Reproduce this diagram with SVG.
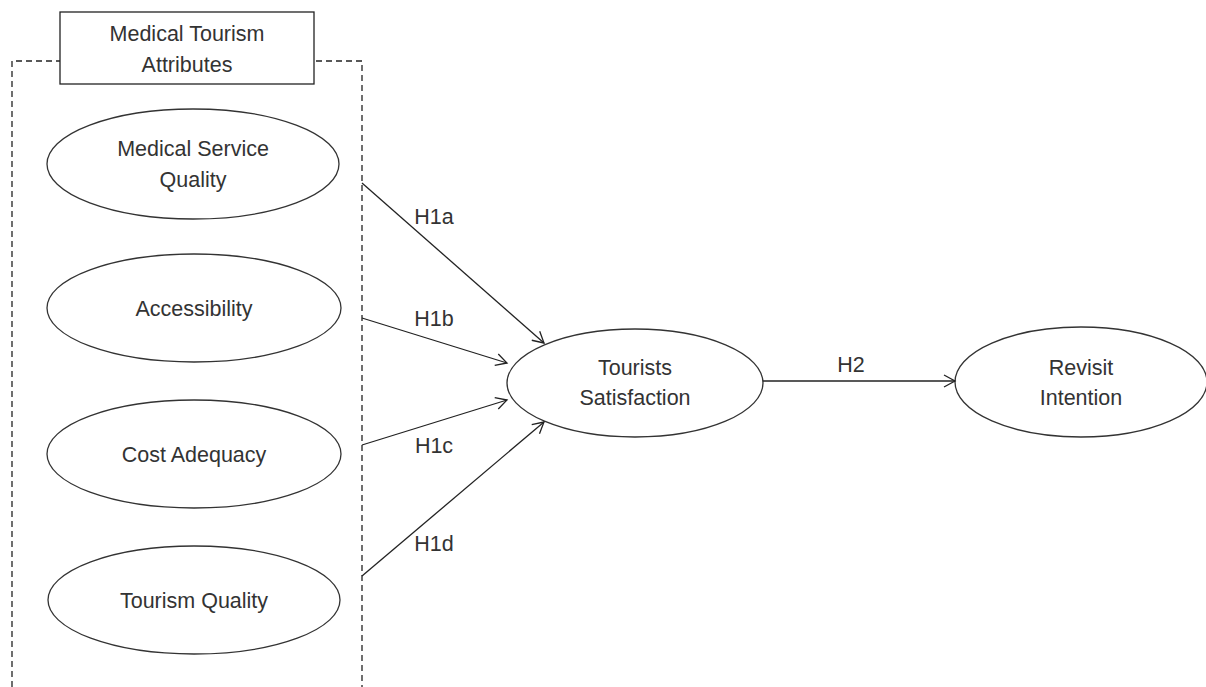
<svg xmlns="http://www.w3.org/2000/svg" width="1206" height="687" viewBox="0 0 1206 687">
<defs>
<style>
.node{fill:#fff;stroke:#333;stroke-width:1.3}
.t{font-family:"Liberation Sans",Arial,sans-serif;font-size:21.5px;fill:#333;text-anchor:middle}
.c{stroke:#222;stroke-width:1.3;fill:none;marker-end:url(#ah)}
</style>
<marker id="ah" markerWidth="14" markerHeight="14" refX="12" refY="7" orient="auto" markerUnits="userSpaceOnUse">
<path d="M1,1 L12,7 L1,13" fill="none" stroke="#222" stroke-width="1.3"/>
</marker>
</defs>
<rect width="1206" height="687" fill="#fff"/>
<g id="group-box">
<path d="M12,687 V61 H362 V687" fill="none" stroke="#222" stroke-width="1.3" stroke-dasharray="6,4"/>
<rect x="60" y="12" width="254" height="72" fill="#fff" stroke="#222" stroke-width="1.3"/>
<text class="t" x="187" y="41">Medical Tourism</text>
<text class="t" x="187" y="72">Attributes</text>
</g>
<g id="n1"><ellipse class="node" cx="193" cy="164" rx="146" ry="55"/><text class="t" x="193" y="156">Medical Service</text><text class="t" x="193" y="187">Quality</text></g>
<g id="n2"><ellipse class="node" cx="194" cy="308" rx="147" ry="54"/><text class="t" x="194" y="316">Accessibility</text></g>
<g id="n3"><ellipse class="node" cx="194" cy="454" rx="147" ry="54"/><text class="t" x="194" y="462">Cost Adequacy</text></g>
<g id="n4"><ellipse class="node" cx="194" cy="600" rx="146" ry="54"/><text class="t" x="194" y="608">Tourism Quality</text></g>
<g id="n5"><ellipse class="node" cx="635" cy="383" rx="128" ry="54"/><text class="t" x="635" y="375">Tourists</text><text class="t" x="635" y="405">Satisfaction</text></g>
<g id="n6"><ellipse class="node" cx="1081" cy="382" rx="126" ry="55"/><text class="t" x="1081" y="375">Revisit</text><text class="t" x="1081" y="405">Intention</text></g>
<g id="connectors">
<line class="c" x1="362" y1="183" x2="544" y2="343"/>
<line class="c" x1="362" y1="318" x2="507" y2="363"/>
<line class="c" x1="362" y1="445" x2="507" y2="400"/>
<line class="c" x1="362" y1="576" x2="544" y2="422"/>
<line class="c" x1="763" y1="381" x2="955" y2="381"/>
<text class="t" x="434" y="224">H1a</text>
<text class="t" x="434" y="326">H1b</text>
<text class="t" x="434" y="453">H1c</text>
<text class="t" x="434" y="551">H1d</text>
<text class="t" x="851" y="372">H2</text>
</g>
</svg>
